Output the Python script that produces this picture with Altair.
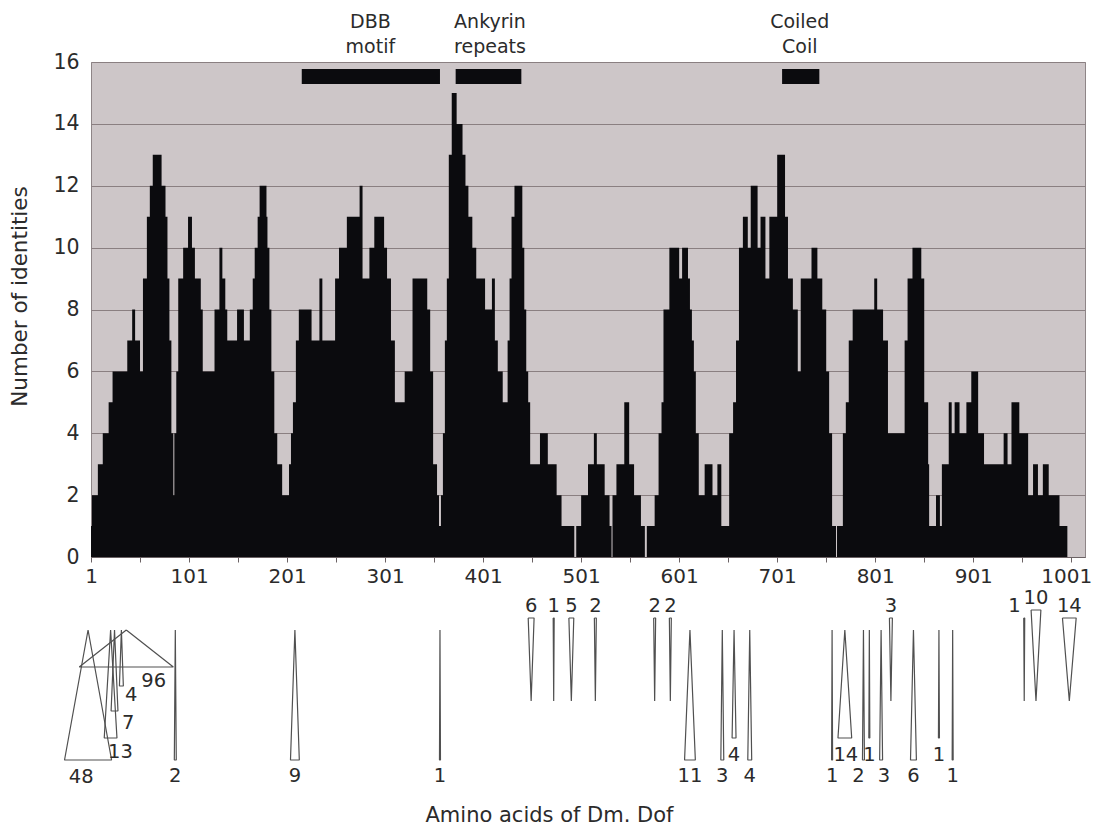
import altair as alt
import pandas as pd

# ---------------- identity profile (step function) ----------------
step_start = [1, 2, 8, 13, 19, 23, 38, 43, 46, 51, 54, 58, 61, 64, 73, 77, 79, 81, 83, 85,
              86, 88, 90, 95, 100, 104, 107, 113, 115, 127, 132, 135, 138, 140, 150, 157, 163, 166, 168, 171,
              173, 180, 181, 183, 185, 188, 191, 196,
              203, 205, 207, 210, 213, 226, 234, 237, 250, 254, 262, 275, 278, 285, 290, 300, 303, 307, 311, 321,
              329, 344, 347, 350, 354, 356,
              358, 360, 362, 364, 366, 369, 374, 380, 383, 386, 390, 394, 403, 410, 413, 416, 421, 426, 428, 430,
              433, 441, 443, 445, 447, 449, 459, 467, 476, 481, 494, 496,
              501, 508, 514, 517, 525, 530, 532, 533, 537, 545, 550, 555, 562, 566, 568, 576, 580, 583, 585, 591,
              601, 604, 610, 612, 614, 616, 618, 621, 627, 635, 640, 644, 652, 656, 659,
              662, 666, 671, 674, 681, 684, 689, 693, 701, 709, 712, 717, 722, 725, 736, 742, 747, 751, 754, 757,
              761, 762, 768, 771, 774, 778, 800, 803,
              809, 814, 831, 834, 839, 848, 851, 855, 856, 863, 867, 869, 876, 879, 882, 887, 894, 899, 906, 912,
              932, 936, 940, 948, 957, 962, 967, 972, 978, 989]
step_value = [1, 2, 3, 4, 5, 6, 7, 8, 7, 6, 9, 11, 12, 13, 12, 11, 9, 7, 4, 2,
              4, 6, 9, 10, 11, 10, 9, 8, 6, 8, 10, 9, 8, 7, 8, 7, 8, 9, 10, 11,
              12, 11, 10, 8, 6, 4, 3, 2,
              3, 4, 5, 7, 8, 7, 9, 7, 9, 10, 11, 12, 9, 10, 11, 10, 9, 7, 5, 6,
              9, 8, 6, 3, 2, 1,
              2, 4, 7, 9, 13, 15, 14, 13, 12, 11, 10, 9, 8, 9, 7, 6, 5, 7, 9, 11,
              12, 10, 8, 6, 5, 3, 4, 3, 2, 1, 0, 1,
              2, 3, 4, 3, 2, 1, 0, 2, 3, 5, 3, 2, 1, 0, 1, 2, 4, 5, 8, 10,
              9, 10, 9, 8, 7, 6, 4, 2, 3, 2, 3, 1, 4, 5, 7,
              10, 11, 10, 12, 10, 11, 9, 11, 13, 11, 9, 8, 6, 9, 10, 9, 8, 6, 4, 1,
              0, 1, 4, 5, 7, 8, 9, 8,
              7, 4, 7, 9, 10, 9, 5, 3, 1, 2, 1, 3, 5, 4, 5, 4, 5, 6, 4, 3,
              4, 3, 5, 4, 2, 3, 2, 3, 2, 1]
profile_end = 997

# ---------------- protein domains ----------------
domain_line1 = ["DBB", "Ankyrin", "Coiled"]
domain_line2 = ["motif", "repeats", "Coil"]
domain_start = [216, 373, 706]
domain_end = [357, 440, 744]
domain_label_x = [286, 408, 724]

# ---------------- insertions (apex position, length, drawing tier) ----------------
ins_label = ["6", "1", "5", "2", "2", "2", "3", "1", "10", "14",
             "48", "13", "7", "4", "96", "2", "9", "1", "11", "3",
             "4", "4", "1", "14", "2", "1", "3", "6", "1", "1"]
ins_pos = [450, 473, 491, 515.5, 576, 592, 817, 953, 965, 999,
           -2, 21, 25, 32, 37, 87, 209, 357, 612, 645,
           657, 673, 757, 770, 789, 795, 807, 840, 866, 880]
ins_len = [6, 1, 5, 2, 2, 2, 3, 1, 10, 14,
           48, 13, 7, 4, 96, 2, 9, 1, 11, 3,
           4, 4, 1, 14, 2, 1, 3, 6, 1, 1]
ins_tier = ["top", "top", "top", "top", "top", "top", "top", "top", "top_hi", "top",
            "l48", "l13", "l7", "l4", "l96", "full", "full", "full", "full", "full",
            "short", "full", "full", "short", "full", "short", "full", "full", "short", "full"]
ins_label_x = [450, 473, 491, 515.5, 576, 592, 817, 943, 965, 999,
               -9, 31, 39, 42, 65, 87, 209, 357, 612, 645,
               657, 673, 757, 771, 784, 795, 810, 840, 866, 880]

# drawing geometry of each tier (vertical layout of the lower panel, px from its top)
TIERS = {
    "top": dict(base=30, apex=113, label=18),
    "top_hi": dict(base=22, apex=113, label=10),
    "full": dict(base=172, apex=42, label=188),
    "short": dict(base=150, apex=42, label=167),
    "l96": dict(base=79, apex=42, label=93),
    "l4": dict(base=98, apex=42, label=107),
    "l7": dict(base=123, apex=42, label=135),
    "l13": dict(base=150, apex=42, label=164),
    "l48": dict(base=172, apex=42, label=189),
}

FONT = "DejaVu Sans"
TEXT = "#2b2b2b"
BAR = "#0b0b0e"
X_DOMAIN = [1, 1015]

# ---------------- tables ----------------
prof = pd.DataFrame({"pos": step_start + [profile_end],
                     "val": step_value + [step_value[-1]]})
dom = pd.DataFrame({"start": domain_start, "end": domain_end, "lx": domain_label_x,
                    "l1": domain_line1, "l2": domain_line2})

rows = []
labs = []
for i, (p, n, t) in enumerate(zip(ins_pos, ins_len, ins_tier)):
    g = TIERS[t]
    h = n / 2.0
    if g["base"] < g["apex"]:
        pts = [(p - h, g["base"]), (p + h, g["base"]), (p, g["apex"]), (p - h, g["base"])]
    else:
        pts = [(p, g["apex"]), (p + h, g["base"]), (p - h, g["base"]), (p, g["apex"])]
    for k, (vx, vy) in enumerate(pts):
        rows.append({"tid": i, "k": k, "vx": vx, "vy": vy})
    labs.append({"lx": ins_label_x[i], "ly": g["label"], "lab": ins_label[i]})
tri_df = pd.DataFrame(rows)
lab_df = pd.DataFrame(labs)

xscale = alt.Scale(domain=X_DOMAIN, nice=False, zero=False)

# ---------------- upper panel ----------------
area = alt.Chart(prof).mark_area(interpolate="step-after", color=BAR).encode(
    x=alt.X("pos:Q", scale=xscale, title=None,
            axis=alt.Axis(values=list(range(1, 1002, 50)), format="d",
                          labelExpr="datum.value % 100 == 1 ? datum.label : ''",
                          labelOffset=alt.condition("datum.value == 1001", alt.value(-5), alt.value(0)),
                          tickSize=5, tickColor="#6b6264", domainColor="#6b6264",
                          labelFontSize=20, labelPadding=4, labelColor=TEXT, grid=False,
                          labelFlush=False, labelOverlap=False)),
    y=alt.Y("val:Q", scale=alt.Scale(domain=[0, 16], nice=False),
            title="Number of identities",
            axis=alt.Axis(values=list(range(0, 17, 2)), ticks=False, domain=False, grid=True,
                          gridColor="#8a7f81", gridWidth=1, labelFontSize=20.5, labelColor=TEXT,
                          labelPadding=12, titleFontSize=21.5, titleFontWeight="normal",
                          titleColor=TEXT, titlePadding=21, titleY=234)),
)

bars = alt.Chart(dom).mark_rect(color=BAR).encode(
    x=alt.X("start:Q", scale=xscale, title=None),
    x2="end:Q",
    y=alt.value(7),
    y2=alt.value(22),
)

text1 = alt.Chart(dom).mark_text(font=FONT, fontSize=19, color=TEXT, baseline="middle").encode(
    x=alt.X("lx:Q", scale=xscale, title=None), y=alt.value(-40), text="l1:N")
text2 = alt.Chart(dom).mark_text(font=FONT, fontSize=19, color=TEXT, baseline="middle").encode(
    x=alt.X("lx:Q", scale=xscale, title=None), y=alt.value(-15), text="l2:N")

top = alt.layer(area, bars, text1, text2).properties(
    width=994, height=495,
    view=alt.ViewBackground(fill="#cdc6c8", stroke="#8e8587"),
)

# ---------------- lower panel ----------------
yscale2 = alt.Scale(domain=[0, 200], reverse=True, nice=False, zero=False)
XTITLE = "Amino acids of Dm. Dof"

tri = alt.Chart(tri_df).mark_line(color="#505050", strokeWidth=1.2, strokeJoin="bevel").encode(
    x=alt.X("vx:Q", scale=xscale, title=XTITLE,
            axis=alt.Axis(labels=False, ticks=False, domain=False, grid=False,
                          titleFontSize=21, titleFontWeight="normal", titleColor=TEXT,
                          titlePadding=16, titleX=458, titleAlign="center")),
    y=alt.Y("vy:Q", scale=yscale2, axis=None),
    detail="tid:N",
    order="k:Q",
)
labels = alt.Chart(lab_df).mark_text(font=FONT, fontSize=19.5, color=TEXT, baseline="middle").encode(
    x=alt.X("lx:Q", scale=xscale, title=XTITLE),
    y=alt.Y("ly:Q", scale=yscale2, axis=None),
    text="lab:N",
)

bottom = alt.layer(tri, labels).properties(
    width=994, height=200,
    view=alt.ViewBackground(fill="#ffffff", stroke="transparent"),
)

chart = alt.vconcat(top, bottom, spacing=0).properties(
    padding={"left": 1, "top": 4, "right": 0, "bottom": -1}
).configure(font=FONT)

chart.save("out.html", embed_options={"renderer": "svg", "actions": False})
